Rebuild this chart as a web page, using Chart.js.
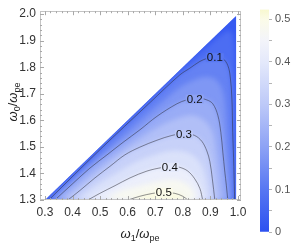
<!DOCTYPE html>
<html><head><meta charset="utf-8">
<script src="https://cdn.jsdelivr.net/npm/chart.js@4"></script>
<style>
html,body{margin:0;padding:0;background:#fff;}
#wrap{position:relative;width:291px;height:243px;overflow:hidden;}
#main{position:absolute;left:0;top:0;}
#bar{position:absolute;left:250px;top:0;}
</style></head><body>
<div id="wrap"><canvas id="main" width="291" height="243"></canvas><canvas id="bar" width="41" height="243"></canvas></div>
<script>
// ---------- data ----------
const xTicks = [0.3,0.4,0.5,0.6,0.7,0.8,0.9,1.0];
const yTicks = [1.3,1.4,1.5,1.6,1.7,1.8,1.9,2.0];
const xRange = [0.282, 1.011];
const yRange = [1.3, 2.011];

// outer boundary of the coloured region (value 0 on its edges)
const region = [[0.300,1.300],[0.993,1.993],[0.993,1.300]];
// contour lines, one array per level
const c005 = [[0.304,1.300],[0.499,1.494],[0.680,1.675],[0.825,1.822],[0.891,1.880],[0.941,1.923],[0.970,1.938],[0.985,1.898],[0.990,1.771],[0.991,1.554],[0.991,1.300]];
const c010 = [[0.314,1.300],[0.499,1.489],[0.680,1.666],[0.789,1.771],[0.825,1.796],[0.862,1.822],[0.887,1.833],[0.916,1.843],[0.945,1.833],[0.963,1.807],[0.972,1.764],[0.978,1.681],[0.981,1.554],[0.985,1.427],[0.988,1.300]];
const c015 = [[0.325,1.300],[0.463,1.430],[0.608,1.564],[0.717,1.662],[0.789,1.724],[0.843,1.753],[0.887,1.764],[0.920,1.753],[0.941,1.720],[0.952,1.662],[0.959,1.554],[0.967,1.427],[0.974,1.300]];
const c020 = [[0.336,1.300],[0.401,1.362],[0.463,1.420],[0.525,1.470],[0.583,1.517],[0.644,1.564],[0.706,1.615],[0.778,1.662],[0.814,1.677],[0.851,1.684],[0.887,1.677],[0.909,1.662],[0.927,1.619],[0.938,1.554],[0.945,1.481],[0.952,1.409],[0.958,1.354],[0.963,1.300]];
const c025 = [[0.358,1.300],[0.427,1.362],[0.499,1.423],[0.572,1.481],[0.644,1.532],[0.717,1.579],[0.782,1.608],[0.833,1.619],[0.872,1.604],[0.898,1.575],[0.912,1.536],[0.920,1.481],[0.929,1.409],[0.939,1.300]];
const c030 = [[0.383,1.300],[0.427,1.336],[0.481,1.383],[0.536,1.427],[0.590,1.470],[0.644,1.499],[0.706,1.525],[0.760,1.543],[0.807,1.550],[0.843,1.543],[0.869,1.521],[0.887,1.485],[0.898,1.445],[0.907,1.380],[0.916,1.300]];
const c035 = [[0.416,1.300],[0.481,1.351],[0.554,1.398],[0.626,1.441],[0.699,1.470],[0.760,1.485],[0.811,1.481],[0.847,1.459],[0.869,1.427],[0.883,1.380],[0.891,1.336],[0.894,1.300]];
const c040 = [[0.456,1.300],[0.499,1.325],[0.554,1.354],[0.608,1.383],[0.670,1.409],[0.728,1.423],[0.760,1.427],[0.789,1.423],[0.818,1.409],[0.843,1.380],[0.862,1.343],[0.872,1.300]];
const c045 = [[0.517,1.300],[0.572,1.333],[0.644,1.354],[0.717,1.372],[0.771,1.376],[0.811,1.362],[0.836,1.336],[0.847,1.300]];
const c050 = [[0.601,1.300],[0.644,1.314],[0.691,1.325],[0.731,1.329],[0.771,1.325],[0.800,1.314],[0.818,1.300]];

// contour labels
const labelLevels = [0.1, 0.2, 0.3, 0.4, 0.5];
const labelX = [0.916, 0.843, 0.804, 0.753, 0.731];
const labelY = [1.836, 1.680, 1.546, 1.423, 1.329];

// colour scale
const colorStops = [0, 0.1, 0.2, 0.3, 0.4, 0.45, 0.5, 0.53];
const colorHex = ['#2c50f0','#5777f2','#8da2f5','#bdc9f8','#e4e9fb','#f3f4fa','#fbfbe8','#f8f8cf'];
const colorbarMax = 0.523;
const colorbarTicks = [0,0.05,0.1,0.15,0.2,0.25,0.3,0.35,0.4,0.45,0.5];
const colorbarLabels = [0,0.1,0.2,0.3,0.4,0.5];

// ---------- helpers ----------
function hexRgb(h){return [parseInt(h.slice(1,3),16),parseInt(h.slice(3,5),16),parseInt(h.slice(5,7),16)];}
function cmap(v){
  if (v <= colorStops[0]) return colorHex[0];
  for (let i=1;i<colorStops.length;i++){
    if (v <= colorStops[i]){
      const t=(v-colorStops[i-1])/(colorStops[i]-colorStops[i-1]);
      const a=hexRgb(colorHex[i-1]), b=hexRgb(colorHex[i]);
      return 'rgb('+a.map((c,k)=>Math.round(c+(b[k]-c)*t)).join(',')+')';
    }
  }
  return colorHex[colorHex.length-1];
}
const FONT = '"Liberation Sans", Arial, sans-serif';
Chart.defaults.font.family = FONT;

// innermost first (drawn last, on top)
const layers = [
  {lvl:0.50, pts:c050, fillV:0.512, line:true},
  {lvl:0.45, pts:c045, fillV:0.475, line:false},
  {lvl:0.40, pts:c040, fillV:0.425, line:true},
  {lvl:0.35, pts:c035, fillV:0.375, line:false},
  {lvl:0.30, pts:c030, fillV:0.325, line:true},
  {lvl:0.25, pts:c025, fillV:0.275, line:false},
  {lvl:0.20, pts:c020, fillV:0.225, line:true},
  {lvl:0.15, pts:c015, fillV:0.175, line:false},
  {lvl:0.10, pts:c010, fillV:0.125, line:true},
  {lvl:0.05, pts:c005, fillV:0.075, line:false},
  {lvl:0.00, pts:region, fillV:0.025, line:false, straight:true}
];

const datasets = layers.map(L => ({
  data: L.pts.map(p => ({x:p[0], y:p[1]})),
  showLine: true,
  fill: 'shape',
  backgroundColor: cmap(L.fillV),
  borderColor: L.line ? 'rgba(45,45,55,0.65)' : 'rgba(0,0,0,0)',
  borderWidth: 0.8,
  pointRadius: 0,
  pointHoverRadius: 0,
  tension: L.straight ? 0 : 0.35
}));

// soften the band fills (runs just before the filler plugin draws them)
function regionPath(chart){
  const {ctx, scales:{x, y}} = chart;
  ctx.beginPath();
  region.forEach((p,i) => {
    const px = x.getPixelForValue(p[0]), py = y.getPixelForValue(p[1]);
    if (i) ctx.lineTo(px, py); else ctx.moveTo(px, py);
  });
  ctx.closePath();
}
const softPlugin = {
  id: 'softfill',
  beforeDatasetsDraw(chart){
    if (chart.canvas.id !== 'main') return;
    const ctx = chart.ctx;
    regionPath(chart);
    ctx.fillStyle = cmap(0.025);
    ctx.fill();
    ctx.save();
    regionPath(chart);
    ctx.clip();
    try { ctx.filter = 'blur(2.6px)'; } catch(e) {}
    chart.$softOn = true;
  },
  beforeDatasetDraw(chart){
    if (chart.$softOn){ chart.ctx.restore(); chart.$softOn = false; }
  },
  afterDatasetsDraw(chart){
    if (chart.$softOn){ chart.ctx.restore(); chart.$softOn = false; }
  }
};
(function(){
  let filler = null;
  try { filler = Chart.registry.getPlugin('filler'); } catch(e) { filler = Chart.Filler || null; }
  if (filler){ Chart.unregister(filler); Chart.register(softPlugin); Chart.register(filler); }
  else { Chart.register(softPlugin); }
})();

const framePlugin = {
  id: 'frame',
  afterDatasetsDraw(chart){
    const {ctx, chartArea:a, scales:{x, y}} = chart;
    ctx.save();
    ctx.font = '11.5px ' + FONT;
    ctx.textAlign = 'center';
    ctx.textBaseline = 'middle';
    labelLevels.forEach((lv,i) => {
      const t = lv.toFixed(1);
      const px = x.getPixelForValue(labelX[i]), py = y.getPixelForValue(labelY[i]);
      const w = ctx.measureText(t).width;
      ctx.fillStyle = cmap(lv);
      ctx.fillRect(px - w/2 - 1, py - 4.5, w + 2, 9);
      ctx.fillStyle = '#111';
      ctx.fillText(t, px, py + 0.5);
    });
    ctx.strokeStyle = '#c4c4c4';
    ctx.lineWidth = 1;
    ctx.strokeRect(Math.round(a.left)+0.5, Math.round(a.top)+0.5, Math.round(a.right-a.left)-1, Math.round(a.bottom-a.top)-1);
    ctx.strokeStyle = '#a8a8a8';
    ctx.beginPath();
    for (let k = Math.ceil(xRange[0]*50); k <= Math.floor(xRange[1]*50); k++){
      const v = k/50, major = (k % 5 === 0), L = major ? 4 : 2;
      const px = Math.round(x.getPixelForValue(v)) + 0.5;
      ctx.moveTo(px, a.bottom); ctx.lineTo(px, a.bottom - L);
      ctx.moveTo(px, a.top); ctx.lineTo(px, a.top + L);
    }
    for (let k = Math.ceil(yRange[0]*50); k <= Math.floor(yRange[1]*50); k++){
      const v = k/50, major = (k % 5 === 0), L = major ? 4 : 2;
      const py = Math.round(y.getPixelForValue(v)) + 0.5;
      ctx.moveTo(a.left, py); ctx.lineTo(a.left + L, py);
      ctx.moveTo(a.right, py); ctx.lineTo(a.right - L, py);
    }
    ctx.stroke();
    ctx.restore();
  },
  afterDraw(chart){
    const ctx = chart.ctx;
    const parts = (sub) => [
      {t:'ω', f:'italic 13px '+FONT, dy:0},
      {t:sub, f:'9px '+FONT, dy:3},
      {t:'/', f:'13px '+FONT, dy:0},
      {t:'ω', f:'italic 13px '+FONT, dy:0},
      {t:'pe', f:'9px '+FONT, dy:3}
    ];
    function draw(ps, cx, cy, rot){
      ctx.save();
      ctx.translate(cx, cy);
      if (rot) ctx.rotate(-Math.PI/2);
      let total = 0;
      ps.forEach(p => { ctx.font = p.f; p.w = ctx.measureText(p.t).width; total += p.w; });
      let xx = -total/2;
      ctx.fillStyle = '#222';
      ctx.textBaseline = 'alphabetic';
      ctx.textAlign = 'left';
      ps.forEach(p => { ctx.font = p.f; ctx.fillText(p.t, xx, p.dy); xx += p.w; });
      ctx.restore();
    }
    draw(parts('1'), 140, 238, false);
    draw(parts('0'), 17, 102, true);
  }
};

new Chart(document.getElementById('main'), {
  type: 'scatter',
  data: { datasets },
  options: {
    responsive: false, animation: false, devicePixelRatio: 1, events: [],
    layout: { padding: { left: 0, top: 4, right: 50, bottom: 0 } },
    plugins: { legend: {display:false}, tooltip: {enabled:false}, filler: {drawTime:'beforeDatasetsDraw'} },
    scales: {
      x: {
        type: 'linear', min: xRange[0], max: xRange[1],
        afterBuildTicks: s => { s.ticks = xTicks.map(v => ({value:v})); },
        afterFit: s => { s.height = 43; },
        grid: { display: true, drawOnChartArea: false, drawTicks: false },
        border: { display: false },
        ticks: { callback: v => v.toFixed(1), color: '#333', font: {size: 12}, padding: 5, maxRotation: 0, autoSkip: false }
      },
      y: {
        type: 'linear', min: yRange[0], max: yRange[1],
        afterBuildTicks: s => { s.ticks = yTicks.map(v => ({value:v})); },
        afterFit: s => { s.width = 40; },
        grid: { display: true, drawOnChartArea: false, drawTicks: false },
        border: { display: false },
        ticks: { callback: v => v.toFixed(1), color: '#333', font: {size: 12}, padding: 4, autoSkip: false }
      }
    }
  },
  plugins: [framePlugin]
});

// ---------- colour bar ----------
new Chart(document.getElementById('bar'), {
  type: 'bar',
  data: { labels: [''], datasets: [{
    data: [colorbarMax],
    barPercentage: 1, categoryPercentage: 1, borderWidth: 0,
    backgroundColor: (c) => {
      const ch = c.chart;
      if (!ch.chartArea || !ch.scales.y) return colorHex[2];
      const ys = ch.scales.y;
      const g = ch.ctx.createLinearGradient(0, ys.getPixelForValue(0), 0, ys.getPixelForValue(colorbarMax));
      colorStops.forEach((v,i) => g.addColorStop(Math.min(1, v/colorbarMax), colorHex[i]));
      return g;
    }
  }]},
  options: {
    responsive: false, animation: false, devicePixelRatio: 1, events: [],
    layout: { padding: { left: 10, top: 3, right: 0, bottom: 11 } },
    plugins: { legend: {display:false}, tooltip: {enabled:false} },
    scales: {
      x: { display: false },
      y: {
        position: 'right', min: 0, max: colorbarMax,
        afterBuildTicks: s => { s.ticks = colorbarTicks.map(v => ({value:v})); },
        afterFit: s => { s.width = 22; },
        grid: { drawOnChartArea: false, tickLength: 3, color: '#b5b5b5' },
        border: { display: false },
        ticks: {
          padding: 3, color: '#555', font: {size: 11}, autoSkip: false,
          callback: v => colorbarLabels.some(m => Math.abs(m - v) < 1e-9) ? (v === 0 ? '0' : v.toFixed(1)) : ''
        }
      }
    }
  }
});
</script>
</body></html>
